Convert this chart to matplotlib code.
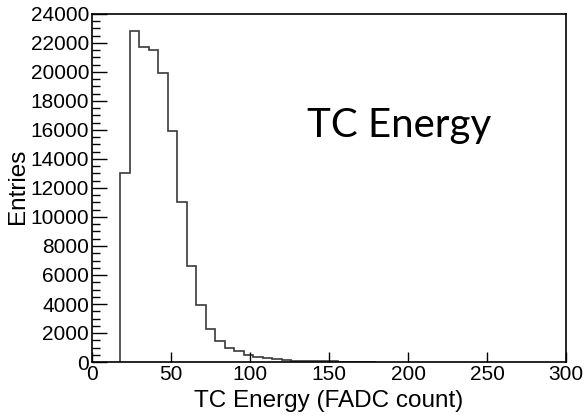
import numpy as np
import matplotlib
matplotlib.use("Agg")
import matplotlib.pyplot as plt
from matplotlib.ticker import MultipleLocator

# bin edges (FADC count) and entries per bin
bin_edges = np.arange(18, 181, 6)
entries = [13000, 22850, 21750, 21550, 19900, 15900, 11000, 6640, 3930,
           2280, 1470, 990, 780, 480, 370, 250, 180, 120, 90, 70,
           50, 40, 35, 30, 0, 30, 25]

x_ticks = [0, 50, 100, 150, 200, 250, 300]

plt.rcParams['font.family'] = ['Liberation Sans', 'DejaVu Sans']

fig = plt.figure(figsize=(5.85, 4.2), dpi=100)
ax = fig.add_axes([92 / 585, 58 / 420, 474 / 585, 348 / 420])

ax.stairs(entries, bin_edges, baseline=0, color='#3a3a3a', linewidth=1.2)

ax.set_xlim(0, 300)
ax.set_ylim(0, 24000)
ax.set_xticks(x_ticks)
ax.yaxis.set_major_locator(MultipleLocator(2000))
ax.yaxis.set_minor_locator(MultipleLocator(500))

ax.tick_params(axis='both', which='both', direction='in', colors='black',
               labelsize=15)
ax.tick_params(axis='y', which='major', length=11, width=1.0, pad=2)
ax.tick_params(axis='y', which='minor', length=5.5, width=1.0)
ax.tick_params(axis='x', which='major', length=7, width=1.0, pad=2)
for s in ax.spines.values():
    s.set_linewidth(1.2)

fig.text(17.5 / 585, 1 - 186.5 / 420, 'Entries', rotation=90,
         ha='center', va='center', fontsize=17.5)
fig.text(329 / 585, 1 - 406.7 / 420, 'TC Energy (FADC count)',
         ha='center', va='baseline', fontsize=17.5)

ax.text(306.7 / 585, 1 - 136.7 / 420, 'TC Energy', transform=fig.transFigure,
        ha='left', va='baseline', fontsize=29, family=['Lato', 'DejaVu Sans'])

fig.savefig('out.png', dpi=100)
